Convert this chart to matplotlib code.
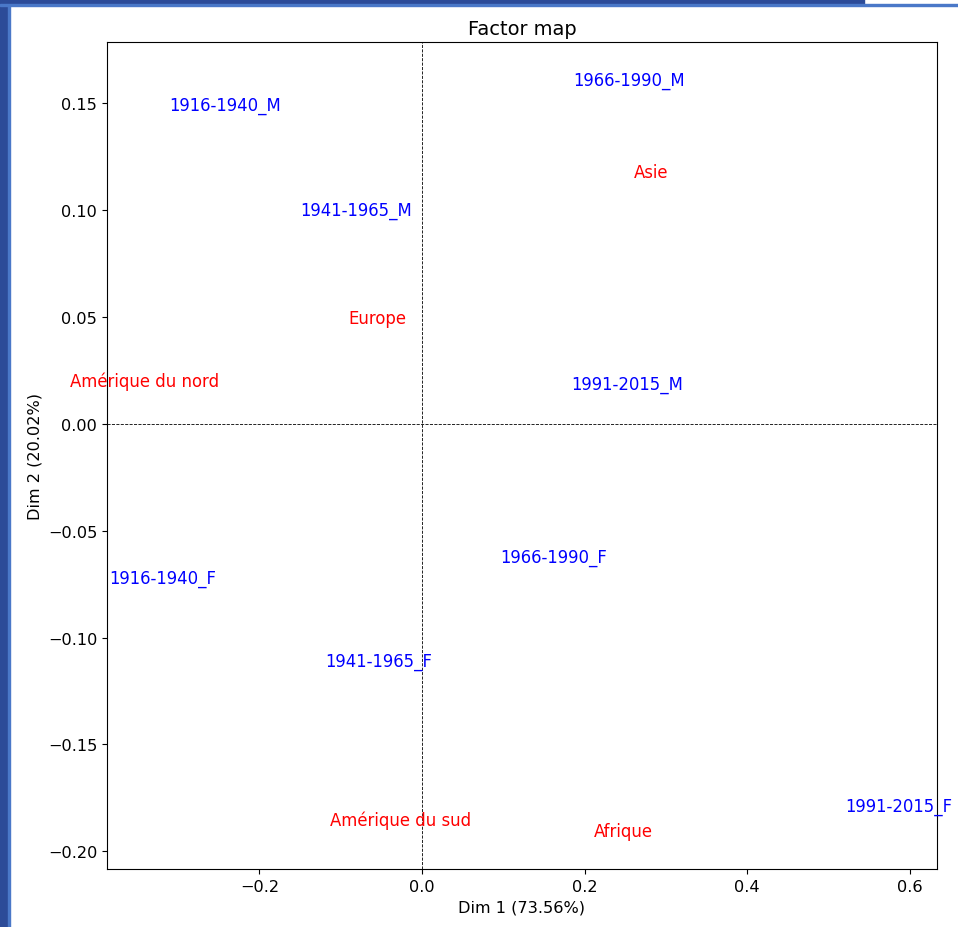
import matplotlib.pyplot as plt
from matplotlib.patches import Rectangle

# row points (age / sex groups)
row_labels = ['1916-1940_M', '1941-1965_M', '1966-1990_M', '1991-2015_M',
              '1916-1940_F', '1941-1965_F', '1966-1990_F', '1991-2015_F']
row_x = [-0.2423, -0.0816, 0.2552, 0.2528, -0.3196, -0.0534, 0.1620, 0.5870]
row_y = [0.1495, 0.1003, 0.1612, 0.0187, -0.0722, -0.1111, -0.0623, -0.1790]

# column points (continents)
col_labels = ['Asie', 'Europe', 'Amérique du nord', 'Amérique du sud', 'Afrique']
col_x = [0.2822, -0.0546, -0.3411, -0.0270, 0.2472]
col_y = [0.1181, 0.0497, 0.0201, -0.1851, -0.1907]

plt.rcParams['font.size'] = 11.6

fig = plt.figure(figsize=(9.58, 9.28), dpi=100)
ax = fig.add_axes([0.1117, 0.0625, 0.8663, 0.8912])

# invisible points so autoscaling follows the coordinates
ax.scatter(row_x + col_x, row_y + col_y, alpha=0)

for lab, x, y in zip(row_labels, row_x, row_y):
    ax.text(x, y, lab, color='blue', ha='center', va='center', fontsize=11.9)
for lab, x, y in zip(col_labels, col_x, col_y):
    ax.text(x, y, lab, color='red', ha='center', va='center', fontsize=11.9)

ax.axhline(0, color='k', ls='--', lw=0.6)
ax.axvline(0, color='k', ls='--', lw=0.6)

ax.set_title('Factor map')
ax.set_xlabel('Dim 1 (73.56%)')
ax.set_ylabel('Dim 2 (20.02%)')

# window frame of the screenshot
fig.patches.append(Rectangle((0, 0), 8 / 958, 1, transform=fig.transFigure,
                             color='#2c4b98', zorder=0))
fig.patches.append(Rectangle((8 / 958, 0), 2 / 958, 1, transform=fig.transFigure,
                             color='#4a78c8', zorder=0))
fig.patches.append(Rectangle((0, 1 - 5 / 928), 864 / 958, 5 / 928, transform=fig.transFigure,
                             color='#2c4b98', zorder=0))
fig.patches.append(Rectangle((0, 1 - 7 / 928), 1, 2 / 928, transform=fig.transFigure,
                             color='#4a78c8', zorder=0))

fig.savefig('out.png', dpi=100)
